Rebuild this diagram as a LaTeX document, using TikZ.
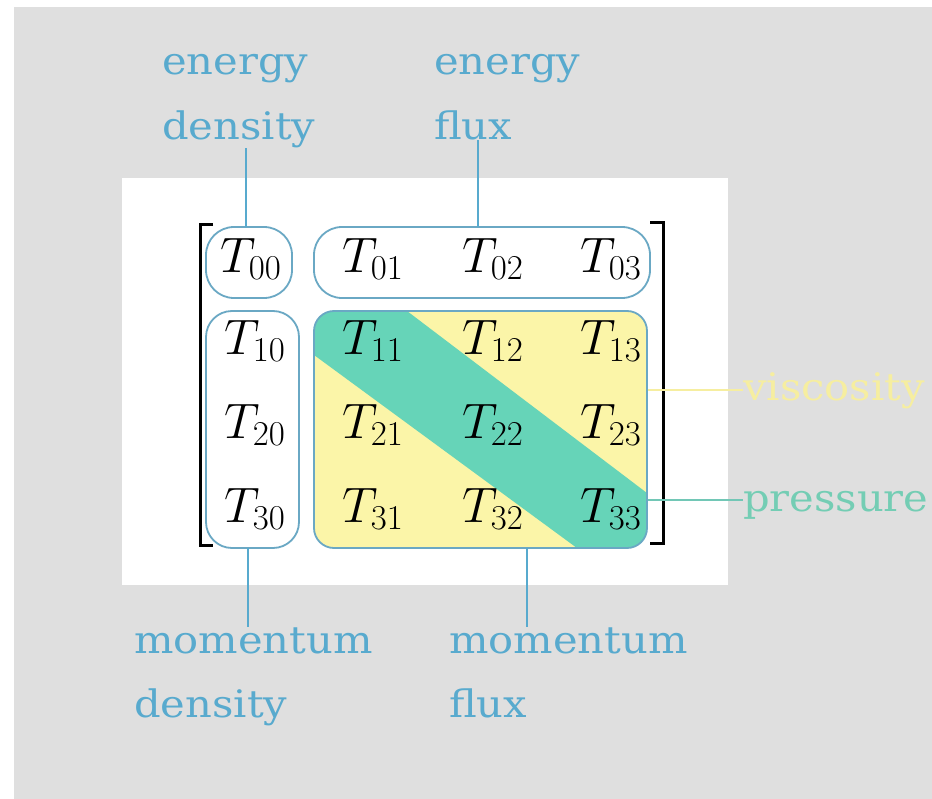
\RequirePackage{fix-cm}
\documentclass[tikz,border=0pt]{standalone}
\usepackage{fontspec}
\newfontfamily\labelfont[FakeStretch=1.1]{DejaVu Serif}
\definecolor{bggray}{HTML}{DFDFDF}
\definecolor{lblue}{HTML}{58AACE}
\definecolor{boxc}{HTML}{6AA8C4}
\definecolor{yfill}{HTML}{FBF5A8}
\definecolor{tfill}{HTML}{66D4B8}
\definecolor{vyellow}{HTML}{F6EEA0}
\definecolor{pteal}{HTML}{74CDB4}
\begin{document}
\begin{tikzpicture}[x=1bp,y=-1bp,
  lbl/.style={font=\labelfont\fontsize{38}{44}\selectfont, text=lblue, inner sep=0pt, anchor=base west},
  cell/.style={font=\fontsize{50}{60}\selectfont, inner sep=0pt, anchor=base west},
  grp/.style={draw=boxc, line width=1.8bp, rectangle, inner sep=0pt},
  conn/.style={draw=lblue, line width=2bp},
  brk/.style={line width=3bp, draw=black}]
\useasboundingbox (0,0) rectangle (932,799);
\fill[white] (0,0) rectangle (932,799);
\fill[bggray] (14,7) rectangle (932,799);
\fill[white] (122,178) rectangle (728,585);

% big block fill with diagonal band
\begin{scope}
  \clip[rounded corners=20bp] (314,311) rectangle (647,548);
  \fill[yfill] (314,311) rectangle (647,548);
  \fill[tfill] (300,300) -- (392.5,300) -- (660,502.9) -- (660,560) -- (593.3,560) -- (300,344.7) -- cycle;
\end{scope}

% group boxes
\node[grp, rounded corners=28bp, minimum width=86bp, minimum height=71bp] (b00) at (249,262.5) {};
\node[grp, rounded corners=28bp, minimum width=336bp, minimum height=71bp] (brow) at (482,262.5) {};
\node[grp, rounded corners=26bp, minimum width=93bp, minimum height=237bp] (bcol) at (252.5,429.5) {};
\node[grp, rounded corners=20bp, minimum width=333bp, minimum height=237bp] (bbig) at (480.5,429.5) {};

% brackets
\draw[brk] (213,224) -- (200,224) -- (200,545) -- (213,545);
\draw[brk] (650,222) -- (663,222) -- (663,543) -- (650,543);

% cells
\node[cell] (t00) at (220,272) {$T_{00}$};
\node[cell] (t01) at (342,272) {$T_{01}$};
\node[cell] (t02) at (462,272) {$T_{02}$};
\node[cell] (t03) at (580,272) {$T_{03}$};
\node[cell] (t10) at (224,354) {$T_{10}$};
\node[cell] (t11) at (342,354) {$T_{11}$};
\node[cell] (t12) at (462,354) {$T_{12}$};
\node[cell] (t13) at (580,354) {$T_{13}$};
\node[cell] (t20) at (224,438) {$T_{20}$};
\node[cell] (t21) at (342,438) {$T_{21}$};
\node[cell] (t22) at (462,438) {$T_{22}$};
\node[cell] (t23) at (580,438) {$T_{23}$};
\node[cell] (t30) at (224,522) {$T_{30}$};
\node[cell] (t31) at (342,522) {$T_{31}$};
\node[cell] (t32) at (462,522) {$T_{32}$};
\node[cell] (t33) at (580,522) {$T_{33}$};

% labels
\node[lbl] (ed1) at (162,75) {energy};
\node[lbl] (ed2) at (162,139) {density};
\node[lbl] (ef1) at (434,75) {energy};
\node[lbl] (ef2) at (434,139) {flux};
\node[lbl] (md1) at (134,653) {momentum};
\node[lbl] (md2) at (134,717) {density};
\node[lbl] (mf1) at (449,653) {momentum};
\node[lbl] (mf2) at (449,717) {flux};
\node[lbl, text=vyellow] (visc) at (743,400) {viscosity};
\node[lbl, text=pteal, text height=32bp, text depth=9bp] (pres) at (743,511) {pressure};

% connectors
\coordinate (edx) at (246,227);
\coordinate (efx) at (478,227);
\coordinate (mdx) at (248,548);
\coordinate (mfx) at (527,548);
\draw[conn] (edx) -- (edx |- ed2.south);
\draw[conn] (efx) -- (efx |- ef2.south);
\draw[conn] (mdx) -- (mdx |- md1.north);
\draw[conn] (mfx) -- (mfx |- mf1.north);
\draw[conn, draw=vyellow] (bbig.east |- visc.west) -- (visc.west);
\draw[conn, draw=pteal!85!boxc] (bbig.east |- pres.west) -- (pres.west);
\end{tikzpicture}
\end{document}
